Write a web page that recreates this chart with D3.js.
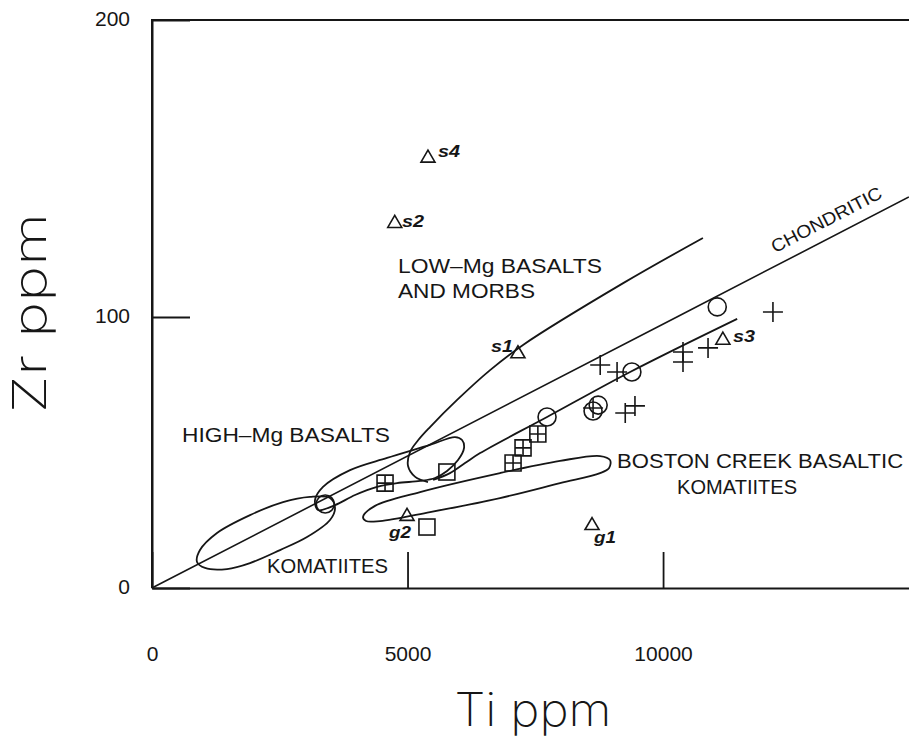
<!DOCTYPE html>
<html>
<head>
<meta charset="utf-8">
<script src="https://cdn.jsdelivr.net/npm/d3@7"></script>
<style>
  html, body { margin: 0; padding: 0; background: #fff; }
  svg { display: block; }
</style>
</head>
<body>
<svg id="chart" width="909" height="744"></svg>
<script>
// ---- Sample data: Ti ppm, Zr ppm ----
// open triangles, with sample names
const triangleSamples = [
  ["s4", 5400, 154], ["s2", 4750, 132], ["s1", 7160, 87],
  ["s3", 11170, 92], ["g2", 4990, 27], ["g1", 8610, 23.6]
];
const openSquares = [[5770, 42.8], [5380, 22.5]];
const crossedSquares = [[4560, 38.7], [7065, 46.1], [7260, 51.7], [7550, 56.8]];
const openCircles = [
  [3390, 31.0], [7730, 63.1], [9390, 79.7], [11060, 103.4], [8630, 65.3], [8730, 67.5]
];
const pluses = [
  [8770, 82.3], [9100, 79.7], [10390, 87.1], [10390, 83.4], [10880, 88.6],
  [12150, 101.7], [8630, 66.4], [9260, 64.6], [9450, 67.2]
];

// ---- Reference line and field outlines (Ti, Zr) ----
const chondriticLine = [[0, 0], [10270, 100], [14810, 140.4]];
const lowMgUpper = [
  [5400, 39.1], [5150, 41.0], [5010, 45.0], [5050, 50.2], [5210, 54.6], [5440, 59.4],
  [5970, 69.4], [6615, 80.4], [7260, 89.7], [9220, 111.4], [10780, 126.6]
];
const lowMgLower = [
  [5500, 39.9], [5830, 42.4], [6125, 46.1], [6420, 49.8], [7730, 63.1], [9355, 79.7], [11450, 99.3]
];
const highMgField = [
  [3190, 32.5], [3346, 37.3], [3875, 43.5], [4600, 48.0], [5440, 52.8], [5930, 55.7],
  [6067, 54.6], [6106, 51.7], [5988, 47.2], [5773, 43.2], [5538, 40.6], [5245, 39.5],
  [4795, 38.7], [4403, 37.3], [3973, 34.3], [3581, 30.6], [3249, 28.8]
];
const komatiiteField = [
  [881, 9.6], [1037, 7.4], [1468, 7.0], [1918, 9.2], [2505, 14.0], [3033, 18.8],
  [3483, 25.1], [3581, 29.5], [3483, 33.2], [3092, 33.6], [2564, 31.7], [1918, 26.9],
  [1272, 20.3], [939, 14.0]
];
const bostonCreekField = [
  [4129, 26.2], [4364, 30.3], [5245, 35.4], [6810, 42.4], [7984, 46.9], [8767, 48.7],
  [8963, 47.2], [8944, 44.3], [8767, 42.4], [7984, 38.7], [6810, 33.2], [5440, 28.0],
  [4462, 24.7], [4188, 24.7]
];

// ---- Axis ticks ----
const tiTicks = [0, 5000, 10000];
const zrTicks = [0, 100, 200];

// ---- Field names: text, Ti, Zr at the start of the baseline, drawn length ----
const fieldNames = [
  ["LOW–Mg BASALTS", 4814, 114.8, 204],
  ["AND MORBS", 4814, 106.3, 137],
  ["HIGH–Mg BASALTS", 587, 53.9, 208],
  ["BOSTON CREEK BASALTIC", 9100, 44.3, 286],
  ["KOMATIITES", 10274, 34.7, 120],
  ["KOMATIITES", 2250, 5.5, 121]
];
const sampleNames = [
  ["s4", 5597, 153.9], ["s2", 4893, 130.3], ["s1", 6634, 87.1],
  ["s3", 11370, 90.8], ["g2", 4638, 18.5], ["g1", 8650, 16.6]
];

const ink = "#161616";
const svg = d3.select("#chart");

const x = d3.scaleLinear().domain([0, 15000]).range([152, 918.6]);
const y = d3.scaleLinear().domain([0, 100, 200]).range([588, 317, 20]);

// frame: left axis, top border
svg.append("path")
  .attr("d", `M${x(0)},${y(0)}V${y(200)}H${x(15000)}`)
  .attr("fill", "none").attr("stroke", ink).attr("stroke-width", 2);

// axes with inward ticks
const xAxis = svg.append("g")
  .attr("transform", `translate(0,${y(0)})`)
  .call(d3.axisBottom(x).tickValues(tiTicks).tickSizeInner(-36).tickSizeOuter(0).tickPadding(58).tickFormat(d3.format("d")));
const yAxis = svg.append("g")
  .attr("transform", `translate(${x(0)},0)`)
  .call(d3.axisLeft(y).tickValues(zrTicks).tickSizeInner(-38).tickSizeOuter(0).tickPadding(22).tickFormat(d3.format("d")));

[xAxis, yAxis].forEach(g => {
  g.select(".domain").attr("stroke", ink).attr("stroke-width", 2);
  g.selectAll(".tick line").attr("stroke", ink).attr("stroke-width", 1.8);
  g.selectAll(".tick text")
    .attr("fill", ink)
    .style("font-family", "'Liberation Sans', Arial, sans-serif")
    .style("font-size", "21px");
});
yAxis.selectAll(".tick text").attr("dy", "0.28em");

// axis titles (thin lettering)
const titleFont = "Inter, Lato, 'Open Sans', sans-serif";
svg.append("text")
  .attr("x", 533).attr("y", 726)
  .attr("text-anchor", "middle")
  .attr("textLength", 157).attr("lengthAdjust", "spacingAndGlyphs")
  .style("font-family", titleFont)
  .style("font-weight", 200)
  .style("font-size", "46px")
  .attr("fill", ink)
  .text("Ti ppm");

svg.append("text")
  .attr("transform", "translate(46,313) rotate(-90)")
  .attr("text-anchor", "middle")
  .attr("textLength", 200).attr("lengthAdjust", "spacingAndGlyphs")
  .style("font-family", titleFont)
  .style("font-weight", 200)
  .style("font-size", "46px")
  .attr("fill", ink)
  .text("Zr ppm");

// clip to the plotting window
svg.append("clipPath").attr("id", "plot")
  .append("rect").attr("x", x(0)).attr("y", y(200)).attr("width", x(15000) - x(0)).attr("height", y(0) - y(200));

const plot = svg.append("g").attr("clip-path", "url(#plot)");

const openLine = d3.line().x(d => x(d[0])).y(d => y(d[1])).curve(d3.curveCatmullRom.alpha(0.5));
const closedLine = d3.line().x(d => x(d[0])).y(d => y(d[1])).curve(d3.curveCatmullRomClosed.alpha(0.5));
const straight = d3.line().x(d => x(d[0])).y(d => y(d[1]));

plot.append("path").attr("d", straight(chondriticLine))
  .attr("fill", "none").attr("stroke", ink).attr("stroke-width", 1.6);
[lowMgUpper, lowMgLower].forEach(c =>
  plot.append("path").attr("d", openLine(c))
    .attr("fill", "none").attr("stroke", ink).attr("stroke-width", 1.8));
[highMgField, komatiiteField, bostonCreekField].forEach(c =>
  plot.append("path").attr("d", closedLine(c))
    .attr("fill", "none").attr("stroke", ink).attr("stroke-width", 1.8));

// symbols
const sym = plot.append("g").attr("fill", "none").attr("stroke", ink).attr("stroke-width", 1.6);

sym.selectAll(".tri").data(triangleSamples).join("path")
  .attr("class", "tri")
  .attr("transform", d => `translate(${x(d[1])},${y(d[2])})`)
  .attr("d", "M0,-6.5L7,5.5H-7Z");

sym.selectAll(".sq").data(openSquares).join("rect")
  .attr("class", "sq")
  .attr("x", d => x(d[0]) - 8).attr("y", d => y(d[1]) - 8)
  .attr("width", 16).attr("height", 16);

sym.selectAll(".xsq").data(crossedSquares).join("path")
  .attr("class", "xsq")
  .attr("transform", d => `translate(${x(d[0])},${y(d[1])})`)
  .attr("d", "M-8,-8H8V8H-8ZM0,-8V8M-8,0H8");

sym.selectAll(".circ").data(openCircles).join("circle")
  .attr("class", "circ")
  .attr("cx", d => x(d[0])).attr("cy", d => y(d[1])).attr("r", 9);

sym.selectAll(".plus").data(pluses).join("path")
  .attr("class", "plus")
  .attr("transform", d => `translate(${x(d[0])},${y(d[1])})`)
  .attr("d", "M-10,0H10M0,-10V10");

// field names
plot.selectAll(".field").data(fieldNames).join("text")
  .attr("class", "field")
  .attr("x", d => x(d[1])).attr("y", d => y(d[2]))
  .attr("textLength", d => d[3]).attr("lengthAdjust", "spacingAndGlyphs")
  .style("font-family", "'Liberation Sans', Arial, sans-serif")
  .style("font-size", "20px")
  .attr("fill", ink)
  .text(d => d[0]);

// chondritic label, parallel to its line
const ang = Math.atan2(y(0) - y(100), x(10270) - x(0)) * 180 / Math.PI;
plot.append("text")
  .attr("transform", `translate(${x(12192)},${y(121.5)}) rotate(${-ang})`)
  .attr("textLength", 122).attr("lengthAdjust", "spacingAndGlyphs")
  .style("font-family", "'Liberation Sans', Arial, sans-serif")
  .style("font-size", "18px")
  .attr("fill", ink)
  .text("CHONDRITIC");

// sample names
plot.selectAll(".sname").data(sampleNames).join("text")
  .attr("class", "sname")
  .attr("x", d => x(d[1])).attr("y", d => y(d[2]))
  .attr("textLength", 22).attr("lengthAdjust", "spacingAndGlyphs")
  .style("font-family", "'Liberation Sans', Arial, sans-serif")
  .style("font-size", "16px")
  .style("font-weight", "bold")
  .style("font-style", "italic")
  .attr("fill", ink)
  .text(d => d[0]);
</script>
</body>
</html>
